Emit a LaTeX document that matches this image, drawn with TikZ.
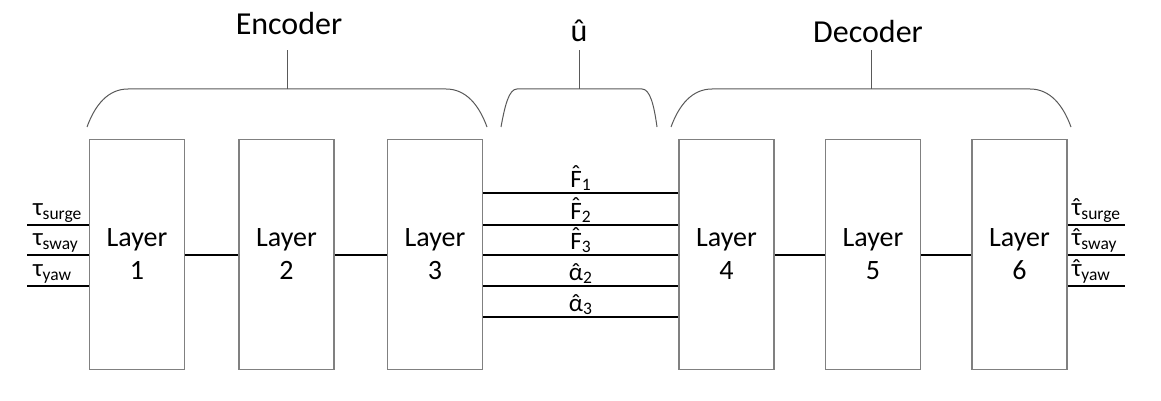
\documentclass[tikz,border=0pt]{standalone}
\usepackage{fontspec}
\setmainfont{Carlito}
\usetikzlibrary{positioning}

\newcommand\hatted[1]{{\accent"02C6 #1}}

\tikzset{
	layer/.style = {draw=gray, line width=1.5pt, minimum width=95pt, minimum height=230pt, inner sep=0pt, align=center, font=\fontsize{28}{33}\selectfont},
	link/.style  = {line width=2pt, black},
	brace/.style = {draw=black!65, line width=1pt},
	sig/.style   = {font=\fontsize{25}{29}\selectfont, inner sep=0pt},
	head/.style  = {font=\fontsize{32}{38}\selectfont, inner sep=0pt, anchor=base},
}

\begin{document}
\begin{tikzpicture}[x=1pt, y=-1pt]
	\useasboundingbox (0,0) rectangle (1161,401);
	\node[layer] (l1) at (137,254.5) {Layer\\1};
	\node[layer] (l2) [right = 53pt of l1] {Layer\\2};
	\node[layer] (l3) [right = 52pt of l2] {Layer\\3};
	\node[layer] (l4) [right = 195pt of l3] {Layer\\4};
	\node[layer] (l5) [right = 50pt of l4] {Layer\\5};
	\node[layer] (l6) [right = 50pt of l5] {Layer\\6};
	\coordinate (i1) at (27,224.5);
	\coordinate (i2) at (27,254.5);
	\coordinate (i3) at (27,285.5);
	\coordinate (o1) at (1125,224.5);
	\coordinate (o2) at (1125,254.5);
	\coordinate (o3) at (1125,285.5);
	\path[link] (i1) edge node[sig, pos=0, anchor=base west, xshift=5pt, yshift=9pt] {τ\textsubscript{surge}} (i1 -| l1.west);
	\path[link] (i2) edge node[sig, pos=0, anchor=base west, xshift=5pt, yshift=9pt] {τ\textsubscript{sway}}  (i2 -| l1.west);
	\path[link] (i3) edge node[sig, pos=0, anchor=base west, xshift=5pt, yshift=9pt] {τ\textsubscript{yaw}}   (i3 -| l1.west);
	\path[link] (l1) edge (l2);
	\path[link] (l2) edge (l3);
	\path[link] ([yshift=62pt]l3.east)  edge node[sig, anchor=base, yshift=5.5pt] {\hatted{F}\textsubscript{1}} ([yshift=62pt]l4.west);
	\path[link] ([yshift=30pt]l3.east)  edge node[sig, anchor=base, yshift=5.5pt] {\hatted{F}\textsubscript{2}} ([yshift=30pt]l4.west);
	\path[link] (l3.east)               edge node[sig, anchor=base, yshift=5.5pt] {\hatted{F}\textsubscript{3}} (l4.west);
	\path[link] ([yshift=-31pt]l3.east) edge node[sig, anchor=base, yshift=5.5pt] {\hatted{α}\textsubscript{2}} ([yshift=-31pt]l4.west);
	\path[link] ([yshift=-62pt]l3.east) edge node[sig, anchor=base, yshift=5.5pt] {\hatted{α}\textsubscript{3}} ([yshift=-62pt]l4.west);
	\path[link] (l4) edge (l5);
	\path[link] (l5) edge (l6);
	\path[link] (o1 -| l6.east) edge node[sig, pos=0, anchor=base west, xshift=3pt, yshift=9pt] {\hatted{τ}\textsubscript{surge}} (o1);
	\path[link] (o2 -| l6.east) edge node[sig, pos=0, anchor=base west, xshift=3pt, yshift=9pt] {\hatted{τ}\textsubscript{sway}}  (o2);
	\path[link] (o3 -| l6.east) edge node[sig, pos=0, anchor=base west, xshift=3pt, yshift=9pt] {\hatted{τ}\textsubscript{yaw}}   (o3);
	% braces over the groups
	\node[head] (enc) at (289,35) {Encoder};
	\node[head] (uhat) at (579,42) {û};
	\node[head] (dec) at (868,43) {Decoder};
	\coordinate (enct) at (287,50);
	\coordinate (uhatt) at (579,50);
	\coordinate (dect) at (871,50);
	\draw[brace] (87,127) .. controls (95,105) and (108,89) .. (128,89) -- (446,89) .. controls (466,89) and (479,105) .. (487,127);
	\draw[brace] (501,127) .. controls (505,105) and (509,89) .. (517,89) -- (642,89) .. controls (650,89) and (654,105) .. (657,127);
	\draw[brace] (671,127) .. controls (679,105) and (692,89) .. (712,89) -- (1030,89) .. controls (1050,89) and (1063,105) .. (1071,127);
	\draw[brace] (enct |- 0,89) -- (enct);
	\draw[brace] (uhatt |- 0,89) -- (uhatt);
	\draw[brace] (dect |- 0,89) -- (dect);
\end{tikzpicture}
\end{document}
